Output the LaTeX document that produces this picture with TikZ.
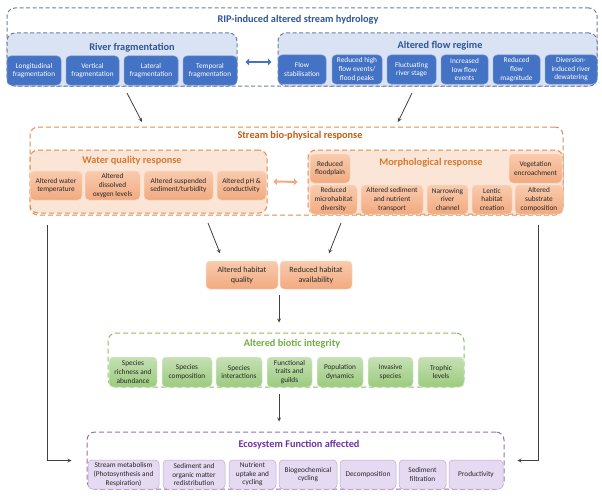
\documentclass[tikz,border=0pt]{standalone}
\usepackage{fontspec}
\setmainfont{Carlito}
\usepackage{tikz}
\usetikzlibrary{calc,arrows.meta}
\usepackage{xcolor}

\definecolor{hydDark}{HTML}{2F5597}
\definecolor{hydBlue}{HTML}{4472C4}
\definecolor{hydLight}{HTML}{DAE3F3}
\definecolor{hydLine}{HTML}{6F7F99}
\definecolor{bioDark}{HTML}{C55A11}
\definecolor{bioHead}{HTML}{D9782F}
\definecolor{bioLight}{HTML}{FBE5D6}
\definecolor{bioLine}{HTML}{DD8C50}
\definecolor{bioTop}{HTML}{F8CBAD}
\definecolor{bioBot}{HTML}{F2AA80}
\definecolor{intDark}{HTML}{70AD47}
\definecolor{intLine}{HTML}{86BF5F}
\definecolor{intTop}{HTML}{C5E0B4}
\definecolor{intBot}{HTML}{9CCB7E}
\definecolor{ecoDark}{HTML}{7030A0}
\definecolor{ecoLine}{HTML}{9070B6}
\definecolor{ecoFill}{HTML}{E5DAF2}
\definecolor{arrowGray}{HTML}{404040}

\tikzset{
  panel/.style={rounded corners=8pt, dash pattern=on 4pt off 2.5pt, line width=1pt, inner sep=0pt},
  subbox/.style={rounded corners=4pt, inner sep=1pt, align=center, font=\fontsize{7.3}{8.6}\selectfont},
  bluebox/.style={subbox, fill=hydBlue, draw=hydBlue!75!white, line width=0.5pt, text=white},
  orangebox/.style={subbox, top color=bioTop, bottom color=bioBot, draw=bioTop!70!white, line width=0.5pt, text=black!85},
  greenbox/.style={subbox, top color=intTop, bottom color=intBot, draw=intTop!60!white, line width=0.5pt, text=black!85},
  purplebox/.style={subbox, fill=ecoFill, draw=ecoLine!60!white, line width=0.5pt, text=black!85},
  heading/.style={font=\fontsize{10.3}{12}\selectfont\bfseries},
  flowarrow/.style={->, arrowGray, line width=0.8pt},
  dblarrow/.style={{Triangle[length=3.5pt,width=6.5pt]}-{Triangle[length=3.5pt,width=6.5pt]}, line width=2pt}
}

\begin{document}
\begin{tikzpicture}[x=1pt, y=-1pt, >=stealth]
    \useasboundingbox (0,0) rectangle (602,503);

    % Stream hydrology
    \node[panel, draw=hydLine, minimum width=590, minimum height=78] (hyd) at (302,47) {};
    \node[heading, hydDark] (hydtitle) at (298,20) {RIP-induced altered stream hydrology};
    \node[panel, draw=hydLine, fill=hydLight, minimum width=230, minimum height=53] (rf) at (122,59.5) {};
    \node[panel, draw=hydLine, fill=hydLight, minimum width=319, minimum height=53] (fr) at (437.5,59.5) {};
    \node[heading, hydDark] (rftitle) at (132,48) {River fragmentation};
    \node[heading, hydDark] (frtitle) at (440,46) {Altered flow regime};

    \foreach \i/\xa/\xb/\lbl in {%
        1/7/61/{Longitudinal\\fragmentation},%
        2/66/119/{Vertical\\fragmentation},%
        3/124/178/{Lateral\\fragmentation},%
        4/183/237/{Temporal\\fragmentation}%
    } {
        \pgfmathsetmacro{\bw}{\xb-\xa}
        \node[bluebox, minimum width=\bw, minimum height=29] (rf\i) at ({(\xa+\xb)/2},70.5) {\lbl};
    }
    \foreach \i/\xa/\xb/\lbl in {%
        1/278/326/{Flow\\stabilisation},%
        2/332/382/{Reduced high\\flow events/\\flood peaks},%
        3/387/436/{Fluctuating\\river stage},%
        4/441/488/{Increased\\low flow\\events},%
        5/493/540/{Reduced\\flow\\magnitude},%
        6/545/597/{Diversion-\\induced river\\dewatering}%
    } {
        \pgfmathsetmacro{\bw}{\xb-\xa}
        \node[bluebox, minimum width=\bw, minimum height=29] (fr\i) at ({(\xa+\xb)/2},69.5) {\lbl};
    }
    \draw[dblarrow, hydBlue, shorten <=8pt, shorten >=6pt] ([yshift=-2.5pt]rf.east) -- ([yshift=-2.5pt]fr.west);

    % Stream bio-physical response
    \node[panel, draw=bioLine, dash pattern=on 5pt off 3pt, minimum width=533, minimum height=88] (bio) at (296.5,171) {};
    \node[heading, bioDark] (biotitle) at (300,136) {Stream bio-physical response};
    \node[panel, draw=bioLine, dash pattern=on 5pt off 3pt, fill=bioLight, minimum width=237, minimum height=63] (wq) at (148.5,181.5) {};
    \node[panel, draw=bioLine, dash pattern=on 5pt off 3pt, fill=bioLight, minimum width=255, minimum height=64] (mr) at (435.5,182) {};
    \node[heading, bioHead] (wqtitle) at (132,161) {Water quality response};
    \node[heading, bioHead] (mrtitle) at (431,163) {Morphological response};

    \foreach \i/\xa/\xb/\lbl in {%
        1/30/82/{Altered water\\temperature},%
        2/85/140/{Altered\\dissolved\\oxygen levels},%
        3/144/213/{Altered suspended\\sediment/turbidity},%
        4/217/266/{Altered pH \&\\conductivity}%
    } {
        \pgfmathsetmacro{\bw}{\xb-\xa}
        \node[orangebox, minimum width=\bw, minimum height=29] (wq\i) at ({(\xa+\xb)/2},185.5) {\lbl};
    }
    \foreach \i/\xa/\xb/\yc/\lbl in {%
        1/310/350/168.5/{Reduced\\floodplain},%
        2/509/562/168.5/{Vegetation\\encroachment},%
        3/310/357/199.5/{Reduced\\microhabitat\\diversity},%
        4/361/423/199.5/{Altered sediment\\and nutrient\\transport},%
        5/427/468/199.5/{Narrowing\\river\\channel},%
        6/472/512/199.5/{Lentic\\habitat\\creation},%
        7/515/563/199.5/{Altered\\substrate\\composition}%
    } {
        \pgfmathsetmacro{\bw}{\xb-\xa}
        \node[orangebox, minimum width=\bw, minimum height=29] (mr\i) at ({(\xa+\xb)/2},\yc) {\lbl};
    }
    \draw[dblarrow, bioBot, shorten <=6pt, shorten >=10pt] (wq.east) -- (mr.west);

    % Habitat
    \node[orangebox, font=\fontsize{8}{9.8}\selectfont, minimum width=72, minimum height=28] (habq) at (242,275) {Altered habitat\\quality};
    \node[orangebox, font=\fontsize{8}{9.8}\selectfont, minimum width=72, minimum height=28] (haba) at (316,275) {Reduced habitat\\availability};
    \coordinate (mid) at ($(habq.east)!.5!(haba.west)$);

    % Biotic integrity
    \node[panel, draw=intLine, dash pattern=on 5pt off 3pt, minimum width=356, minimum height=54] (bi) at (286,360) {};
    \node[heading, intDark] (bititle) at (292,344) {Altered biotic integrity};
    \foreach \i/\xa/\xb/\lbl in {%
        1/109/157/{Species\\richness and\\abundance},%
        2/162/212/{Species\\composition},%
        3/216/262/{Species\\interactions},%
        4/267/312/{Functional\\traits and\\guilds},%
        5/317/363/{Population\\dynamics},%
        6/368/413/{Invasive\\species},%
        7/418/464/{Trophic\\levels}%
    } {
        \pgfmathsetmacro{\bw}{\xb-\xa}
        \node[greenbox, minimum width=\bw, minimum height=30] (bi\i) at ({(\xa+\xb)/2},372) {\lbl};
    }

    % Ecosystem function
    \node[panel, draw=ecoLine, dash pattern=on 5pt off 3pt, minimum width=417, minimum height=57] (eco) at (295.5,460.5) {};
    \node[heading, ecoDark] (ecotitle) at (299,445) {Ecosystem Function affected};
    \foreach \i/\xa/\xb/\lbl in {%
        1/88/159/{Stream metabolism\\(Photosynthesis and\\Respiration)},%
        2/163/225/{Sediment and\\organic matter\\redistribution},%
        3/229/276/{Nutrient\\uptake and\\cycling},%
        4/279/337/{Biogeochemical\\cycling},%
        5/340/396/{Decomposition},%
        6/399/446/{Sediment\\filtration},%
        7/449/503/{Productivity}%
    } {
        \pgfmathsetmacro{\bw}{\xb-\xa}
        \node[purplebox, minimum width=\bw, minimum height=29] (eco\i) at ({(\xa+\xb)/2},474.5) {\lbl};
    }

    % Connectors
    \coordinate (hydL) at (127,93);
    \coordinate (hydR) at (412,93);
    \coordinate (bioL) at (142,122);
    \coordinate (bioR) at (398,122);
    \draw[flowarrow] (hydL) -- (bioL);
    \draw[flowarrow] (hydR) -- (bioR);

    \coordinate (wqOut) at (208,223);
    \coordinate (mrOut) at (341,223);
    \draw[flowarrow, shorten >=8pt] (wqOut) -- ($(habq.north)+(-19,0)$);
    \draw[flowarrow, shorten >=8pt] (mrOut) -- ($(haba.north)+(10,0)$);

    \draw[flowarrow, shorten <=6pt, shorten >=10pt] (mid |- habq.south) -- (mid |- bi.north);
    \draw[flowarrow, shorten <=6pt, shorten >=10pt] (mid |- bi.south) -- (mid |- eco.north);

    \coordinate (sideL) at (47,225);
    \coordinate (sideR) at (538,225);
    \draw[flowarrow] (sideL) |- ([xshift=-15pt]eco.west);
    \draw[flowarrow] (sideR) |- ([xshift=13pt]eco.east);
\end{tikzpicture}
\end{document}
